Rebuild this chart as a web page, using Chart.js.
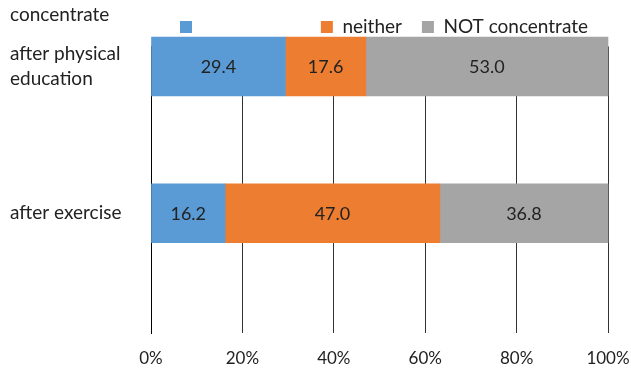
<!DOCTYPE html>
<html>
<head>
<meta charset="utf-8">
<script src="https://cdn.jsdelivr.net/npm/chart.js@4.4.1/dist/chart.umd.min.js"></script>
<style>
html,body{margin:0;padding:0;background:#fff;}
#wrap{width:631px;height:370px;}
</style>
</head>
<body>
<div id="wrap"><canvas id="myChart"></canvas></div>
<script>
// data
const groups = [["after physical", "education"], "after exercise"];
const seriesNames = ["concentrate", "neither", "NOT concentrate"];
const concentrate = [29.4, 16.2];
const neither = [17.6, 47.0];
const notConcentrate = [53.0, 36.8];
const xTicks = [0, 20, 40, 60, 80, 100];

Chart.defaults.font.family = "Lato";
Chart.defaults.color = "#222";

const colors = ["#5B9BD5", "#ED7D31", "#A5A5A5"];
const allSeries = [concentrate, neither, notConcentrate];

const datasets = allSeries.map(function (vals, k) {
    return {
        label: seriesNames[k],
        data: vals.map(function (v, i) { return { x: v, y: i }; }),
        backgroundColor: colors[k],
        borderWidth: 0,
        barThickness: 59,
        clip: false
    };
});

// numbers in the middle of each segment
const valueLabels = {
    id: "valueLabels",
    afterDatasetsDraw(chart) {
        const ctx = chart.ctx;
        ctx.save();
        ctx.font = "18px Lato";
        ctx.fillStyle = "#222";
        ctx.textAlign = "center";
        ctx.textBaseline = "middle";
        chart.data.datasets.forEach(function (ds, k) {
            chart.getDatasetMeta(k).data.forEach(function (bar, i) {
                const p = bar.getProps(["x", "y", "base"], true);
                ctx.fillText(ds.data[i].x.toFixed(1), (p.x + p.base) / 2, p.y + 1);
            });
        });
        ctx.restore();
    }
};

var ctx = document.getElementById("myChart").getContext("2d");
let myChart = new Chart(ctx, {
    type: "bar",
    data: { datasets: datasets },
    options: {
        indexAxis: "y",
        responsive: true,
        maintainAspectRatio: false,
        animation: false,
        layout: { padding: { left: 10, right: 23, top: -2.5, bottom: 0 } },
        scales: {
            x: {
                type: "linear",
                stacked: true,
                min: 0,
                max: 100,
                afterBuildTicks: function (s) { s.ticks = xTicks.map(function (v) { return { value: v }; }); },
                afterFit: function (s) { s.paddingRight = 0; s.paddingLeft = 0; s.height = 37; },
                ticks: {
                    font: { size: 17 },
                    padding: 15,
                    maxRotation: 0,
                    callback: function (v) { return v + "%"; }
                },
                grid: { color: "#333", drawTicks: false },
                border: { display: false }
            },
            y: {
                type: "linear",
                stacked: true,
                reverse: true,
                offset: false,
                min: -0.136,
                max: 1.816,
                afterBuildTicks: function (s) { s.ticks = groups.map(function (g, i) { return { value: i }; }); },
                afterFit: function (s) { s.width = 141; },
                ticks: {
                    font: { size: 19, lineHeight: 1.35 },
                    crossAlign: "far",
                    callback: function (v) { return groups[v]; }
                },
                grid: { display: false },
                border: { display: true, color: "#000" }
            }
        },
        plugins: {
            title: {
                display: true,
                text: seriesNames[0],
                align: "start",
                font: { size: 19, weight: "normal" },
                color: "#222",
                padding: { top: 6, bottom: -28.8 }
            },
            legend: {
                position: "top",
                align: "end",
                labels: {
                    boxWidth: 12,
                    boxHeight: 12,
                    padding: 20,
                    font: { size: 19 },
                    generateLabels: function (chart) {
                        const items = Chart.defaults.plugins.legend.labels.generateLabels(chart);
                        items[0].fontColor = "rgba(0,0,0,0)";
                        return items;
                    }
                }
            },
            tooltip: { enabled: false }
        }
    },
    plugins: [valueLabels]
});
</script>
</body>
</html>
